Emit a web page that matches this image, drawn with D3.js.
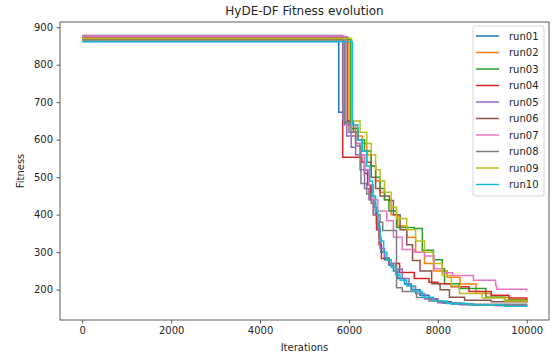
<!DOCTYPE html>
<html>
<head>
<meta charset="utf-8">
<script src="https://cdn.jsdelivr.net/npm/d3@7"></script>
<style>
  body { margin: 0; background: #fff; }
  text { font-family: "DejaVu Sans", sans-serif; fill: #262626; }
</style>
</head>
<body>
<div id="chart"></div>
<script>
// [iteration, best fitness] breakpoints, drawn as steps
var run01 = [[0,862],[5770,673],[5900,640],[6050,610],[6150,590],[6250,560],[6350,520],[6420,480],[6500,450],[6560,420],[6620,380],[6680,340],[6720,300],[6800,280],[6900,265],[7000,250],[7100,230],[7250,215],[7400,200],[7600,185],[7800,175],[8000,168],[8300,162],[8800,159],[9500,157],[10000,156]];
var run02 = [[0,871],[6000,640],[6150,610],[6300,590],[6400,560],[6500,530],[6600,490],[6700,460],[6800,440],[6950,400],[7100,370],[7300,340],[7500,300],[7700,270],[7900,250],[8210,233],[8500,215],[8860,190],[9200,180],[9600,174],[10000,170]];
var run03 = [[0,868],[6040,630],[6200,600],[6350,570],[6500,530],[6600,500],[6700,470],[6800,440],[6900,410],[7070,366],[7470,363],[7650,305],[7900,280],[8100,256],[8150,216],[8480,203],[9080,180],[9500,172],[10000,167]];
var run04 = [[0,867],[5860,553],[6290,540],[6350,510],[6420,480],[6480,440],[6550,400],[6620,360],[6680,320],[6730,283],[6900,270],[7140,246],[7470,230],[7800,220],[8000,216],[8300,208],[8700,195],[9200,185],[9600,178],[10000,173]];
var run05 = [[0,878],[5860,650],[5950,610],[6050,580],[6150,560],[6250,520],[6350,470],[6450,440],[6550,400],[6650,360],[6700,310],[6800,285],[6900,270],[7050,255],[7200,230],[7350,210],[7500,190],[7700,175],[8000,165],[8500,160],[9300,157],[10000,156]];
var run06 = [[0,874],[5960,650],[6100,620],[6200,600],[6300,570],[6400,540],[6500,500],[6600,470],[6700,450],[6910,438],[7000,400],[7150,360],[7300,320],[7430,278],[7600,250],[7860,216],[8050,200],[8260,180],[8600,172],[9200,168],[10000,165]];
var run07 = [[0,876],[5920,640],[6050,610],[6150,590],[6250,560],[6350,520],[6450,480],[6550,440],[6650,410],[6850,384],[7000,340],[7200,307],[7470,300],[7700,290],[7920,256],[8100,245],[8330,238],[8800,225],[9300,212],[9320,201],[10000,196]];
var run08 = [[0,866],[5900,645],[6000,620],[6150,583],[6270,483],[6400,455],[6500,430],[6600,400],[6700,380],[6760,358],[7070,205],[7200,195],[7520,179],[7800,170],[8100,164],[8600,161],[10000,160]];
var run09 = [[0,870],[6060,650],[6250,620],[6400,590],[6500,560],[6600,520],[6700,490],[6800,460],[6950,420],[7070,390],[7300,360],[7500,330],[7700,300],[7900,270],[8100,238],[8300,210],[8486,190],[9000,178],[9500,170],[10000,166]];
var run10 = [[0,861],[6080,640],[6200,600],[6300,570],[6400,530],[6470,490],[6530,450],[6600,410],[6650,370],[6700,330],[6780,300],[6850,280],[6950,260],[7050,240],[7150,225],[7300,210],[7450,195],[7650,180],[7900,170],[8200,163],[8700,159],[9500,156],[10000,155]];

var runNames = ["run01","run02","run03","run04","run05","run06","run07","run08","run09","run10"];
var runData = [run01,run02,run03,run04,run05,run06,run07,run08,run09,run10];
var xTicks = [0,2000,4000,6000,8000,10000];
var yTicks = [200,300,400,500,600,700,800,900];
var colors = ["#1f77b4","#ff7f0e","#2ca02c","#d62728","#9467bd","#8c564b","#e377c2","#7f7f7f","#bcbd22","#17becf"];

var width = 554, height = 356;
var margin = {top: 22, right: 5, bottom: 36, left: 60};

var svg = d3.select("#chart").append("svg")
  .attr("width", width)
  .attr("height", height);

var x = d3.scaleLinear()
  .domain([-500, 10500])
  .range([margin.left, width - margin.right]);

var y = d3.scaleLinear()
  .domain([119, 914])
  .range([height - margin.bottom, margin.top]);

var line = d3.line()
  .x(function(d) { return x(d[0]); })
  .y(function(d) { return y(d[1]); })
  .curve(d3.curveStepAfter);

var plot = svg.append("g");

runData.forEach(function(d, i) {
  plot.append("path")
    .datum(d)
    .attr("fill", "none")
    .attr("stroke", colors[i])
    .attr("stroke-width", 1.5)
    .attr("stroke-linejoin", "miter")
    .attr("d", line);
});

// axes
var xAxis = svg.append("g")
  .attr("transform", "translate(0," + (height - margin.bottom) + ")")
  .call(d3.axisBottom(x).tickValues(xTicks).tickSize(3.5).tickPadding(3.5).tickFormat(d3.format("d")));

var yAxis = svg.append("g")
  .attr("transform", "translate(" + margin.left + ",0)")
  .call(d3.axisLeft(y).tickValues(yTicks).tickSize(3.5).tickPadding(3.5).tickFormat(d3.format("d")));

[xAxis, yAxis].forEach(function(a) {
  a.select(".domain").remove();
  a.selectAll("line").attr("stroke", "#333").attr("stroke-width", 0.8);
  a.selectAll("text").attr("font-size", 10).attr("font-family", "DejaVu Sans").attr("fill", "#262626");
});

svg.append("rect")
  .attr("x", margin.left)
  .attr("y", margin.top)
  .attr("width", width - margin.left - margin.right)
  .attr("height", height - margin.top - margin.bottom)
  .attr("fill", "none")
  .attr("stroke", "#333")
  .attr("stroke-width", 0.8);

// labels
svg.append("text")
  .attr("x", (margin.left + width - margin.right) / 2)
  .attr("y", 15)
  .attr("text-anchor", "middle")
  .attr("font-size", 12)
  .text("HyDE-DF Fitness evolution");

svg.append("text")
  .attr("x", (margin.left + width - margin.right) / 2)
  .attr("y", 351)
  .attr("text-anchor", "middle")
  .attr("font-size", 10)
  .text("Iterations");

svg.append("text")
  .attr("transform", "translate(24," + ((margin.top + height - margin.bottom) / 2) + ") rotate(-90)")
  .attr("text-anchor", "middle")
  .attr("font-size", 10)
  .text("Fitness");

// legend
var legend = svg.append("g")
  .attr("transform", "translate(473,26)");

legend.append("rect")
  .attr("width", 71)
  .attr("height", 170)
  .attr("rx", 2)
  .attr("fill", "#fff")
  .attr("fill-opacity", 0.8)
  .attr("stroke", "#ccc")
  .attr("stroke-width", 0.8);

var item = legend.selectAll(".item")
  .data(runNames)
  .enter()
  .append("g")
  .attr("class", "item")
  .attr("transform", function(d, i) { return "translate(0," + (10 + i * 16.5) + ")"; });

item.append("line")
  .attr("x1", 3).attr("x2", 26)
  .attr("stroke", function(d, i) { return colors[i]; })
  .attr("stroke-width", 1.5);

item.append("text")
  .attr("x", 36)
  .attr("y", 3.5)
  .attr("font-size", 10)
  .text(function(d) { return d; });
</script>
</body>
</html>
